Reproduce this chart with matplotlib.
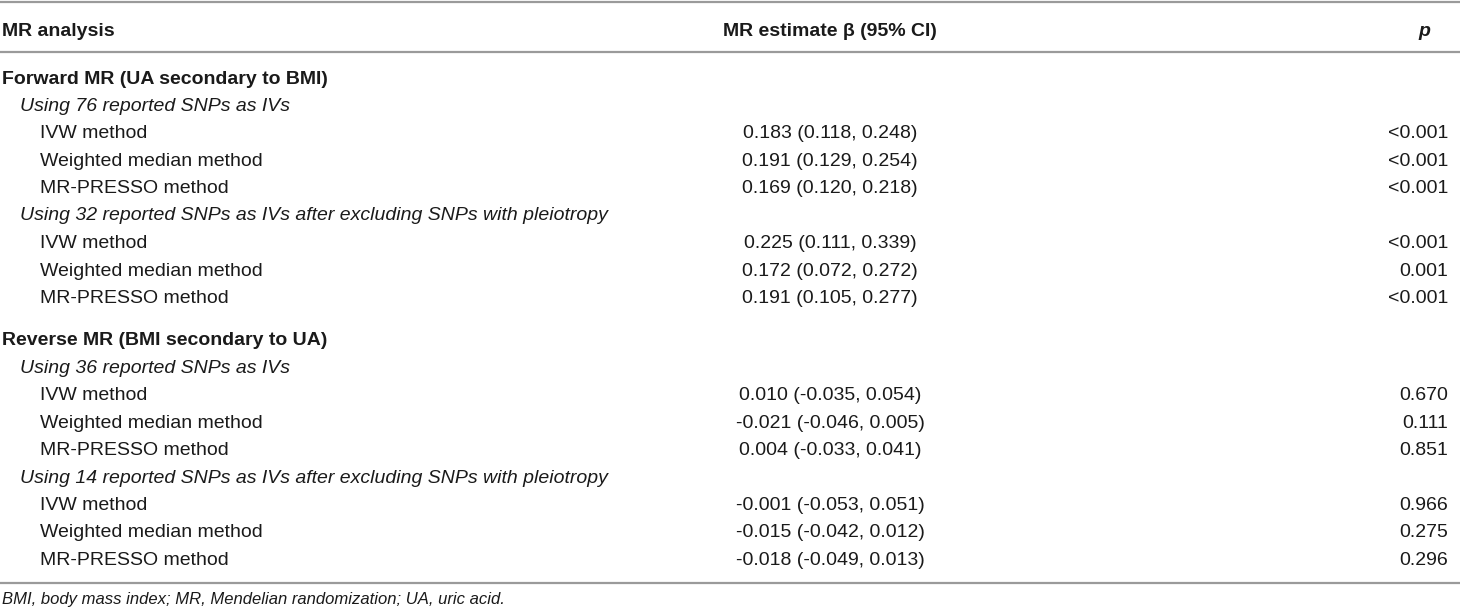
import matplotlib.pyplot as plt

plt.rcParams['font.family'] = ['Liberation Sans', 'DejaVu Sans']

## Datos de la tabla
headers = ["MR analysis", "MR estimate \u03b2 (95% CI)", "p"]

sections = ["Forward MR (UA secondary to BMI)", "Reverse MR (BMI secondary to UA)"]
subgroups = [
    "Using 76 reported SNPs as IVs",
    "Using 32 reported SNPs as IVs after excluding SNPs with pleiotropy",
    "Using 36 reported SNPs as IVs",
    "Using 14 reported SNPs as IVs after excluding SNPs with pleiotropy",
]
methods = ["IVW method", "Weighted median method", "MR-PRESSO method"]

estimates = [
    ["0.183 (0.118, 0.248)", "0.191 (0.129, 0.254)", "0.169 (0.120, 0.218)"],
    ["0.225 (0.111, 0.339)", "0.172 (0.072, 0.272)", "0.191 (0.105, 0.277)"],
    ["0.010 (-0.035, 0.054)", "-0.021 (-0.046, 0.005)", "0.004 (-0.033, 0.041)"],
    ["-0.001 (-0.053, 0.051)", "-0.015 (-0.042, 0.012)", "-0.018 (-0.049, 0.013)"],
]
pvalues = [
    ["<0.001", "<0.001", "<0.001"],
    ["<0.001", "0.001", "<0.001"],
    ["0.670", "0.111", "0.851"],
    ["0.966", "0.275", "0.296"],
]

footnote = "BMI, body mass index; MR, Mendelian randomization; UA, uric acid."

## Figura en coordenadas de pixel
W, H = 1460, 613
fig = plt.figure(figsize=(W / 100, H / 100), dpi=100)
ax = fig.add_axes([0, 0, 1, 1])
ax.set_xlim(0, W)
ax.set_ylim(H, 0)
ax.axis('off')

fs = 14
tc = '#1a1a1a'
lc = '#9a9a9a'
x_left, x_sub, x_meth = 2, 20, 40
x_mid, x_right = 830, 1448
off = 7  # del centro a la linea base

# lineas horizontales
for y in [1.5, 51.5, 582.5]:
    ax.plot([0, W], [y, y], color=lc, lw=1.6, solid_capstyle='butt')

# encabezado
yh = 29
ax.text(x_left, yh + off, headers[0], fontsize=fs, fontweight='bold', color=tc, va='baseline')
ax.text(x_mid, yh + off, headers[1], fontsize=fs, fontweight='bold', color=tc, va='baseline', ha='center')
ax.text(1424, yh + off, headers[2], fontsize=fs, fontweight='bold', style='italic', color=tc,
        va='baseline', ha='center')

# filas
sec_y = [77, 338]
sub_y = [104, 213, 366, 476]
row_y = [[131, 159, 186], [241, 269, 296], [393, 421, 448], [503, 530, 558]]

for i, s in enumerate(sections):
    ax.text(x_left, sec_y[i] + off, s, fontsize=fs, fontweight='bold', color=tc, va='baseline')

for g, sg in enumerate(subgroups):
    ax.text(x_sub, sub_y[g] + off, sg, fontsize=fs, style='italic', color=tc, va='baseline')
    for k, m in enumerate(methods):
        y = row_y[g][k] + off
        ax.text(x_meth, y, m, fontsize=fs, color=tc, va='baseline')
        ax.text(x_mid, y, estimates[g][k], fontsize=fs, color=tc, va='baseline', ha='center')
        ax.text(x_right, y, pvalues[g][k], fontsize=fs, color=tc, va='baseline', ha='right')

# nota al pie
ax.text(x_left, 598 + 6, footnote, fontsize=12, style='italic', color=tc, va='baseline')

plt.savefig('out.png', dpi=100)
